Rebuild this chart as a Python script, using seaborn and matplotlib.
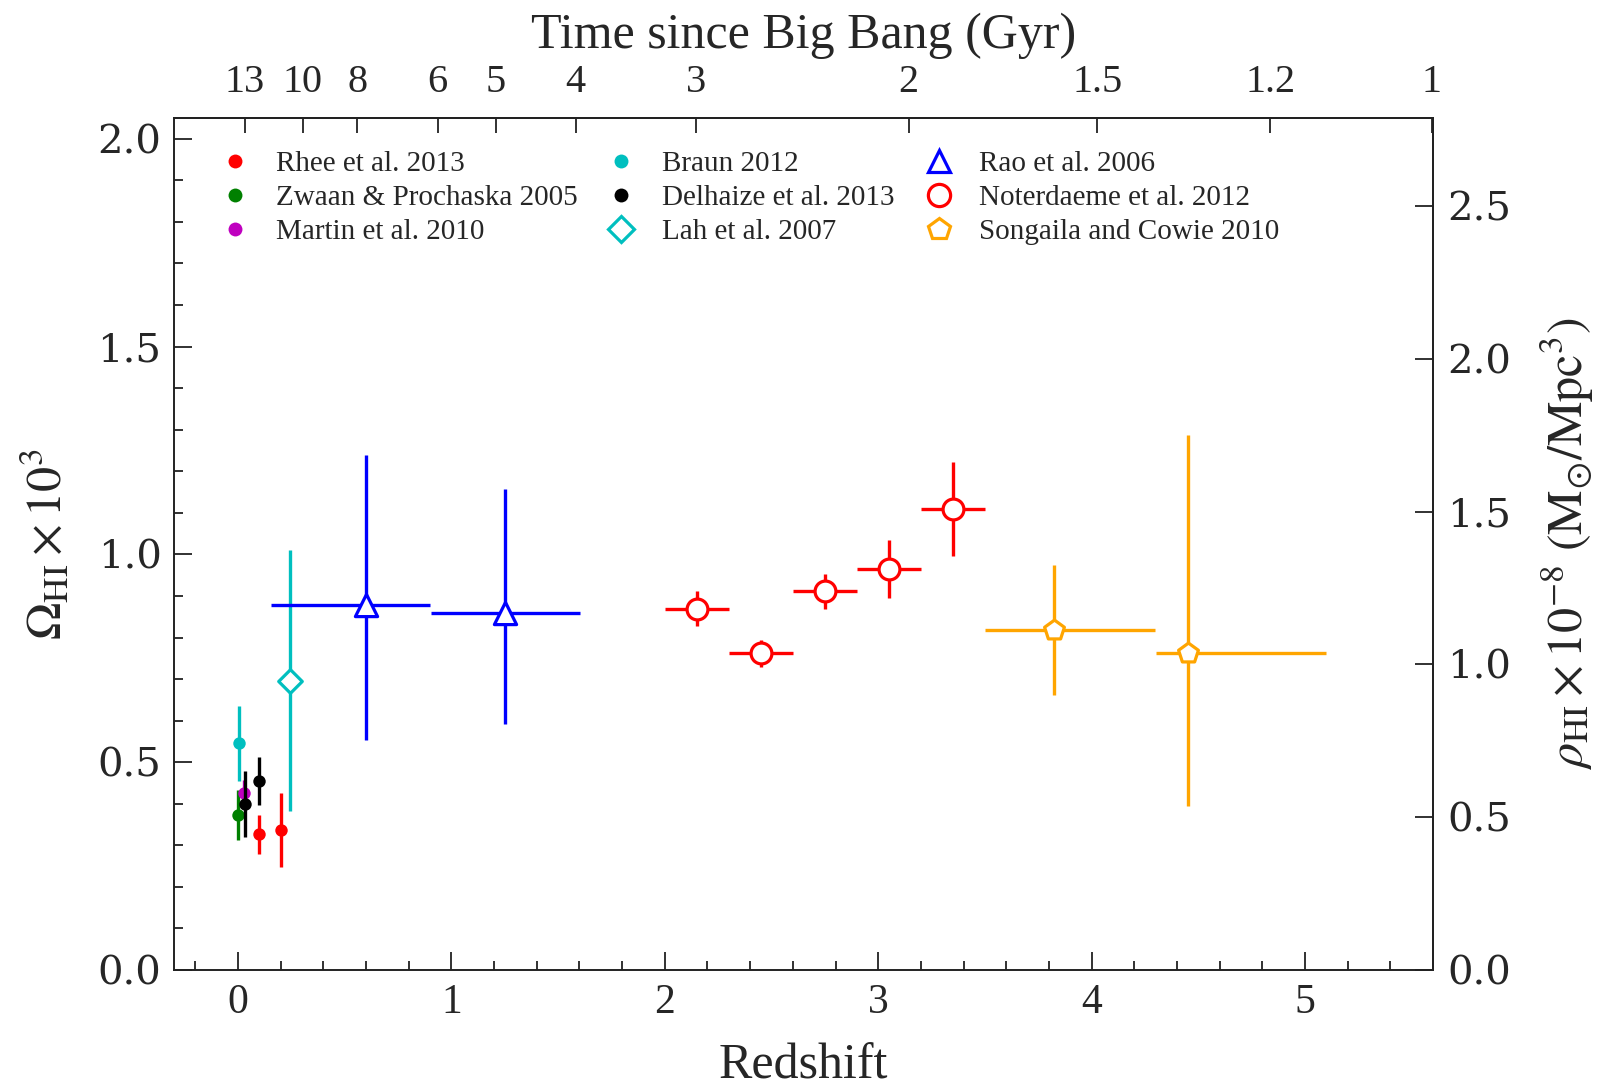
import numpy as np
import matplotlib
matplotlib.use("Agg")
import matplotlib.pyplot as plt
from matplotlib.lines import Line2D
from matplotlib.ticker import MultipleLocator, NullLocator
import seaborn as sns

# ---------------------------------------------------------------- data
# Omega_HI x 1e3 versus redshift
rhee_z = [0.100, 0.200]
rhee_om = [0.327, 0.337]
rhee_err = [0.047, 0.088]

zwaan_z = [0.000]
zwaan_om = [0.372]
zwaan_err = [0.060]

martin_z = [0.027]
martin_om = [0.427]
martin_err = [0.030]

braun_z = [0.004]
braun_om = [0.545]
braun_err = [0.090]

delhaize_z = [0.033, 0.097]
delhaize_om = [0.400, 0.455]
delhaize_err = [0.080, 0.058]

lah_z = [0.243]
lah_om = [0.696]
lah_err = [0.314]

rao_z = [0.602, 1.251]
rao_om = [0.879, 0.858]
rao_zlo = [0.448, 0.348]
rao_zhi = [0.299, 0.352]
rao_errlo = [0.325, 0.265]
rao_errhi = [0.360, 0.299]

noter_z = [2.15, 2.45, 2.75, 3.05, 3.35]
noter_om = [0.869, 0.762, 0.911, 0.964, 1.110]
noter_zerr = [0.15, 0.15, 0.15, 0.15, 0.15]
noter_err = [0.042, 0.032, 0.043, 0.070, 0.113]

song_z = [3.823, 4.451]
song_om = [0.818, 0.763]
song_zlo = [0.321, 0.151]
song_zhi = [0.476, 0.649]
song_errlo = [0.156, 0.368]
song_errhi = [0.157, 0.524]

# top axis: ages (Gyr) that get a tick
age_ticks = [13, 10, 8, 6, 5, 4, 3, 2, 1.5, 1.2, 1]
age_labels = ["13", "10", "8", "6", "5", "4", "3", "2", "1.5", "1.2", "1"]

# right axis: rho_HI ticks (1e8 Msun/Mpc^3)
rho_ticks = [0.0, 0.5, 1.0, 1.5, 2.0, 2.5]

# ---------------------------------------------------------------- cosmology
H0 = 70.2
OM, OL = 0.3, 0.7
HUBBLE_TIME = 977.8 / H0                      # Gyr
PRE = 2.0 / (3.0 * np.sqrt(OL)) * HUBBLE_TIME
RHO_FACTOR = 1.36                             # Omega_HI*1e3 -> rho_HI*1e-8


def z_to_age(z):
    z = np.asarray(z, dtype=float)
    a3 = np.clip(1.0 + z, 1e-3, None) ** -1.5
    return PRE * np.arcsinh(np.sqrt(OL / OM) * a3)


def age_to_z(t):
    t = np.asarray(t, dtype=float)
    s = np.sinh(np.clip(t, 1e-3, None) / PRE)
    return (np.sqrt(OL / OM) / s) ** (2.0 / 3.0) - 1.0


# ---------------------------------------------------------------- style
sns.set_theme(style="ticks")
plt.rcParams["font.family"] = ["Liberation Serif", "DejaVu Serif"]
plt.rcParams["mathtext.fontset"] = "stix"
plt.rcParams["axes.linewidth"] = 1.4
plt.rcParams["axes.edgecolor"] = "#222222"

fig = plt.figure(figsize=(16.04, 10.89), dpi=100)
ax = fig.add_axes([174 / 1604, 1 - 970 / 1089, (1433 - 174) / 1604, (970 - 118) / 1089])

ELW = 2.4
MEW = 2.3


def dots(z, om, err, color, zo):
    ax.errorbar(z, om, yerr=err, fmt="none", ecolor=color, elinewidth=ELW,
                capsize=0, zorder=zo)
    sns.scatterplot(x=z, y=om, marker="o", s=80, color=color, edgecolor=color,
                    linewidth=0, ax=ax, zorder=zo + 0.5, legend=False)


def hollow(z, om, xerr, yerr, color, marker, size, zo):
    ax.errorbar(z, om, xerr=xerr, yerr=yerr, fmt="none", ecolor=color,
                elinewidth=ELW, capsize=0, zorder=zo)
    sns.scatterplot(x=z, y=om, marker=marker, s=size ** 2, color="white",
                    edgecolor=color, linewidth=MEW, ax=ax, zorder=zo + 0.5,
                    legend=False)


C_RED, C_GREEN, C_MAG = "#ff0000", "#008000", "#bf00bf"
C_CYAN, C_BLACK, C_BLUE, C_ORANGE = "#00bfbf", "#000000", "#0000ff", "#ffa500"

hollow(lah_z, lah_om, None, lah_err, C_CYAN, "D", 12, 3)
hollow(rao_z, rao_om, [rao_zlo, rao_zhi], [rao_errlo, rao_errhi], C_BLUE, "^", 16, 3)
hollow(noter_z, noter_om, noter_zerr, noter_err, C_RED, "o", 15, 3)
hollow(song_z, song_om, [song_zlo, song_zhi], [song_errlo, song_errhi], C_ORANGE, "p", 15, 3)

dots(zwaan_z, zwaan_om, zwaan_err, C_GREEN, 5)
dots(braun_z, braun_om, braun_err, C_CYAN, 5)
dots(martin_z, martin_om, martin_err, C_MAG, 6)
dots(delhaize_z, delhaize_om, delhaize_err, C_BLACK, 7)
dots(rhee_z, rhee_om, rhee_err, C_RED, 8)

# ---------------------------------------------------------------- axes
ax.set_xlim(-0.3, 5.6)
ax.set_ylim(0.0, 2.05)
ax.xaxis.set_major_locator(MultipleLocator(1))
ax.xaxis.set_minor_locator(MultipleLocator(0.2))
ax.yaxis.set_major_locator(MultipleLocator(0.5))
ax.yaxis.set_minor_locator(MultipleLocator(0.1))
ax.set_yticks(np.arange(0, 2.01, 0.5))
ax.set_yticklabels([f"{v:.1f}" for v in np.arange(0, 2.01, 0.5)])

ax.tick_params(which="both", direction="in", top=False, right=False,
               color="#222222", width=1.3)
ax.tick_params(which="major", length=13)
ax.tick_params(which="minor", length=6.5)
ax.tick_params(axis="x", labelsize=30, pad=10)
ax.tick_params(axis="y", labelsize=29, pad=9, labelfontfamily="DejaVu Serif")

ax.set_xlabel("Redshift", fontsize=36, labelpad=15)
ax.set_ylabel(r"$\Omega_{\rm HI}\times10^{3}$", fontsize=36, labelpad=18)

# top: time since the Big Bang
top = ax.secondary_xaxis("top", functions=(z_to_age, age_to_z))
top.set_xticks(age_ticks)
top.set_xticklabels(age_labels)
top.xaxis.set_minor_locator(NullLocator())
top.tick_params(direction="in", length=11, width=1.3, color="#222222",
                labelsize=29, pad=12)
top.set_xlabel("Time since Big Bang (Gyr)", fontsize=36, labelpad=12)

# right: HI mass density
right = ax.secondary_yaxis("right", functions=(lambda y: y * RHO_FACTOR,
                                               lambda r: r / RHO_FACTOR))
right.set_yticks(rho_ticks)
right.set_yticklabels([f"{v:.1f}" for v in rho_ticks])
right.yaxis.set_minor_locator(NullLocator())
right.tick_params(direction="in", length=13, width=1.3, color="#222222",
                  labelsize=29, pad=10, labelfontfamily="DejaVu Serif")
right.set_ylabel(r"$\rho_{\rm HI}\times10^{-8}\ ({\rm M_{\odot}/Mpc^{3}})$",
                 fontsize=36, labelpad=20)

for sp in ax.spines.values():
    sp.set_linewidth(1.4)
    sp.set_color("#222222")

# ---------------------------------------------------------------- legend
def dot_handle(color, label):
    return Line2D([], [], ls="", marker="o", ms=10, mfc=color, mec=color,
                  mew=0, label=label)


def hollow_handle(color, marker, ms, label):
    return Line2D([], [], ls="", marker=marker, ms=ms, mfc="white", mec=color,
                  mew=MEW, label=label)


handles = [
    dot_handle(C_RED, "Rhee et al. 2013"),
    dot_handle(C_GREEN, "Zwaan & Prochaska 2005"),
    dot_handle(C_MAG, "Martin et al. 2010"),
    dot_handle(C_CYAN, "Braun 2012"),
    dot_handle(C_BLACK, "Delhaize et al. 2013"),
    hollow_handle(C_CYAN, "D", 13, "Lah et al. 2007"),
    hollow_handle(C_BLUE, "^", 16, "Rao et al. 2006"),
    hollow_handle(C_RED, "o", 16, "Noterdaeme et al. 2012"),
    hollow_handle(C_ORANGE, "p", 16, "Songaila and Cowie 2010"),
]
ax.legend(handles=handles, ncol=3, loc="upper left",
          bbox_to_anchor=(0.037, 0.962), frameon=False, fontsize=21,
          handlelength=1.0, handletextpad=0.9, columnspacing=1.0,
          labelspacing=0.27, borderpad=0, borderaxespad=0)

fig.savefig("out.png", dpi=100)
